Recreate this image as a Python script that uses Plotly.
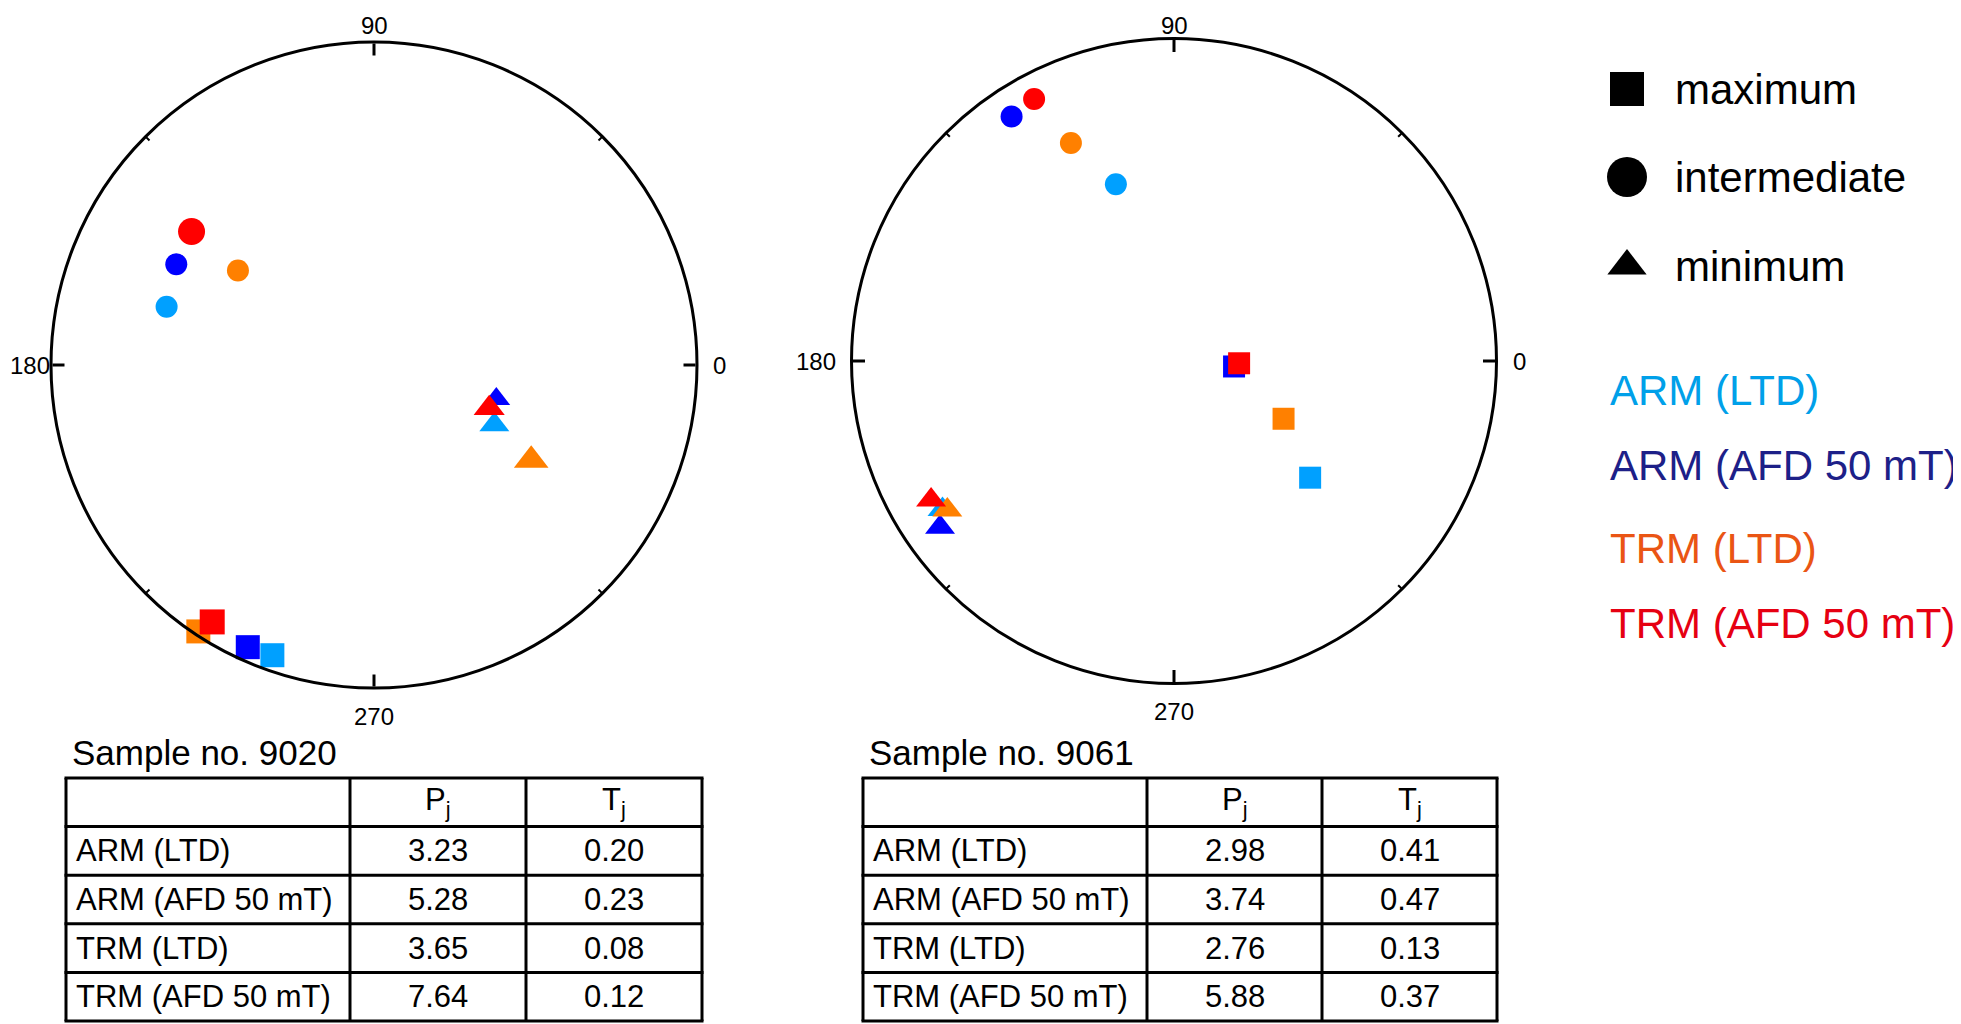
import plotly.graph_objects as go

# ---------------- data ----------------
series = ["ARM (LTD)", "ARM (AFD 50 mT)", "TRM (LTD)", "TRM (AFD 50 mT)"]
axes_names = ["maximum", "intermediate", "minimum"]

# Sample 9020 : angle (deg) and projected radius (0..1) per series, for each principal axis
ang_9020_max = [250.7, 245.9, 236.6, 237.8]
rad_9020_max = [0.952, 0.957, 0.988, 0.940]
ang_9020_int = [164.3, 153.0, 145.2, 143.8]
rad_9020_int = [0.667, 0.687, 0.513, 0.700]
ang_9020_min = [333.6, 344.5, 328.8, 339.4]
rad_9020_min = [0.416, 0.393, 0.569, 0.381]

# Sample 9061
ang_9061_max = [319.4, 354.8, 332.2, 358.0]
rad_9061_max = [0.556, 0.187, 0.384, 0.202]
ang_9061_int = [108.2, 123.6, 115.3, 118.1]
rad_9061_int = [0.577, 0.910, 0.748, 0.921]
ang_9061_min = [212.7, 215.4, 213.3, 209.8]
rad_9061_min = [0.853, 0.890, 0.841, 0.868]

# Table values
Pj_9020 = ["3.23", "5.28", "3.65", "7.64"]
Tj_9020 = ["0.20", "0.23", "0.08", "0.12"]
Pj_9061 = ["2.98", "3.74", "2.76", "5.88"]
Tj_9061 = ["0.41", "0.47", "0.13", "0.37"]

angle_ticks = [0, 90, 180, 270]
minor_ticks = [45, 135, 225, 315]

# ---------------- style ----------------
W, H = 1961, 1024
OFF = 8  # page body margin
marker_colors = ["#00A0FF", "#0000FF", "#FF8000", "#FF0000"]
legend_text_colors = ["#00A0E9", "#1D2088", "#EA5514", "#E60012"]
symbols = ["square", "circle", "triangle-up"]
# marker sizes per series [max, int, min]
sizes_9020 = [[24, 22, 26], [24, 22, 24], [24, 22, 30], [25, 27, 27]]
sizes_9061 = [[22, 22, 26], [22, 22, 26], [22, 22, 26], [22, 22, 26]]

FONT = "Liberation Sans"
circles = [(374, 365, 323), (1174, 361, 322.5)]  # centre x, centre y, radius (page pixels)


def px_domain(cx, cy, R):
    cx -= OFF
    cy -= OFF
    return dict(x=[(cx - R) / W, (cx + R) / W], y=[1 - (cy + R) / H, 1 - (cy - R) / H])


fig = go.Figure()

samples = [
    ("polar", [ang_9020_max, ang_9020_int, ang_9020_min],
     [rad_9020_max, rad_9020_int, rad_9020_min], sizes_9020),
    ("polar2", [ang_9061_max, ang_9061_int, ang_9061_min],
     [rad_9061_max, rad_9061_int, rad_9061_min], sizes_9061),
]

for sub, angs, rads, sizes in samples:
    for mt in minor_ticks:
        fig.add_trace(go.Scatterpolar(theta=[mt, mt], r=[0.983, 1.0], mode="lines",
                                      line=dict(color="black", width=2),
                                      subplot=sub, showlegend=False, hoverinfo="skip"))
    for si, name in enumerate(series):
        fig.add_trace(go.Scatterpolar(
            theta=[angs[k][si] for k in range(3)],
            r=[rads[k][si] for k in range(3)],
            mode="markers",
            marker=dict(symbol=symbols, size=sizes[si], color=marker_colors[si],
                        opacity=1, line=dict(width=0)),
            name=name, subplot=sub, showlegend=False,
            text=axes_names, hovertemplate="%{text}<extra>" + name + "</extra>",
        ))

polar_common = dict(
    bgcolor="white",
    radialaxis=dict(visible=False, range=[0, 1], showgrid=False),
    angularaxis=dict(rotation=0, direction="counterclockwise", showgrid=False,
                     showline=True, linecolor="black", linewidth=3,
                     ticks="inside", ticklen=12, tickwidth=3, tickcolor="black",
                     tickvals=angle_ticks, showticklabels=False),
)

annotations = []

# angular labels, placed just outside each circle (kept inside the visible page)
for cx, cy, R in circles:
    lab = {0: (cx + R + 14, cy, "left", "middle"),
           90: (cx, max(cy - R - 28, OFF + 17), "center", "middle"),
           180: (max(cx - R - 14, OFF + 44), cy, "right", "middle"),
           270: (cx, cy + R + 28, "center", "middle")}
    for t in angle_ticks:
        x, y, xa, ya = lab[t]
        annotations.append(dict(x=x, y=y, text=str(t), xref="x", yref="y",
                                xanchor=xa, yanchor=ya, showarrow=False,
                                font=dict(family=FONT, size=24, color="black")))

# ---------------- legend (on a hidden pixel-coordinate axis) ----------------
leg_x = 1627
leg_sym_y = [89, 177, 266]
leg_sym_size = [34, 40, 34]
fig.add_trace(go.Scatter(x=[leg_x] * 3, y=leg_sym_y, mode="markers",
                         marker=dict(symbol=symbols, size=leg_sym_size, color="black",
                                     opacity=1, line=dict(width=0)),
                         xaxis="x", yaxis="y", showlegend=False, hoverinfo="skip"))

for i, nm in enumerate(axes_names):
    annotations.append(dict(x=1673, y=leg_sym_y[i], text=nm, xref="x", yref="y",
                            xanchor="left", yanchor="middle", showarrow=False,
                            font=dict(family=FONT, size=42, color="black")))
leg_series_y = [390, 465, 548, 623]
for i, nm in enumerate(series):
    annotations.append(dict(x=1608, y=leg_series_y[i], text=nm, xref="x", yref="y",
                            xanchor="left", yanchor="middle", showarrow=False,
                            font=dict(family=FONT, size=42, color=legend_text_colors[i])))

# ---------------- tables ----------------
shapes = []
TABLE_FONT = "Liberation Sans"


def add_table(title, left, cols, top, row_h, pj, tj):
    annotations.append(dict(x=left + 4, y=top - 26, text=title, xref="x", yref="y",
                            xanchor="left", yanchor="middle", showarrow=False,
                            font=dict(family=FONT, size=35, color="black")))
    xs = [left] + cols
    nrows = 1 + len(series)
    bottom = top + nrows * row_h
    for i in range(nrows + 1):
        y = top + i * row_h
        shapes.append(dict(type="line", xref="x", yref="y", x0=xs[0] - 1.5, x1=xs[-1] + 1.5,
                           y0=y, y1=y, line=dict(color="black", width=3)))
    for x in xs:
        shapes.append(dict(type="line", xref="x", yref="y", x0=x, x1=x,
                           y0=top, y1=bottom, line=dict(color="black", width=3)))
    c1 = (xs[1] + xs[2]) / 2
    c2 = (xs[2] + xs[3]) / 2
    hy = top + row_h / 2
    for cx, txt in [(c1, "P<sub>j</sub>"), (c2, "T<sub>j</sub>")]:
        annotations.append(dict(x=cx, y=hy, text=txt, xref="x", yref="y",
                                xanchor="center", yanchor="middle", showarrow=False,
                                font=dict(family=TABLE_FONT, size=31, color="black")))
    for r, nm in enumerate(series):
        cy = top + (r + 1.5) * row_h
        annotations.append(dict(x=left + 8, y=cy, text=nm, xref="x", yref="y",
                                xanchor="left", yanchor="middle", showarrow=False,
                                font=dict(family=TABLE_FONT, size=31, color="black")))
        annotations.append(dict(x=c1, y=cy, text=pj[r], xref="x", yref="y",
                                xanchor="center", yanchor="middle", showarrow=False,
                                font=dict(family=TABLE_FONT, size=31, color="black")))
        annotations.append(dict(x=c2, y=cy, text=tj[r], xref="x", yref="y",
                                xanchor="center", yanchor="middle", showarrow=False,
                                font=dict(family=TABLE_FONT, size=31, color="black")))


add_table("Sample no. 9020", 66, [350, 526, 702], 778, 48.6, Pj_9020, Tj_9020)
add_table("Sample no. 9061", 863, [1147, 1322, 1497], 778, 48.6, Pj_9061, Tj_9061)

fig.update_layout(
    width=W, height=H,
    margin=dict(l=0, r=0, t=0, b=0),
    paper_bgcolor="white", plot_bgcolor="rgba(0,0,0,0)",
    showlegend=False,
    polar=dict(domain=px_domain(*circles[0]), **polar_common),
    polar2=dict(domain=px_domain(*circles[1]), **polar_common),
    xaxis=dict(domain=[0, 1], range=[OFF, W + OFF], visible=False, fixedrange=True),
    yaxis=dict(domain=[0, 1], range=[H + OFF, OFF], visible=False, fixedrange=True),
    shapes=shapes,
    annotations=annotations,
)

fig.write_html("out.html")
